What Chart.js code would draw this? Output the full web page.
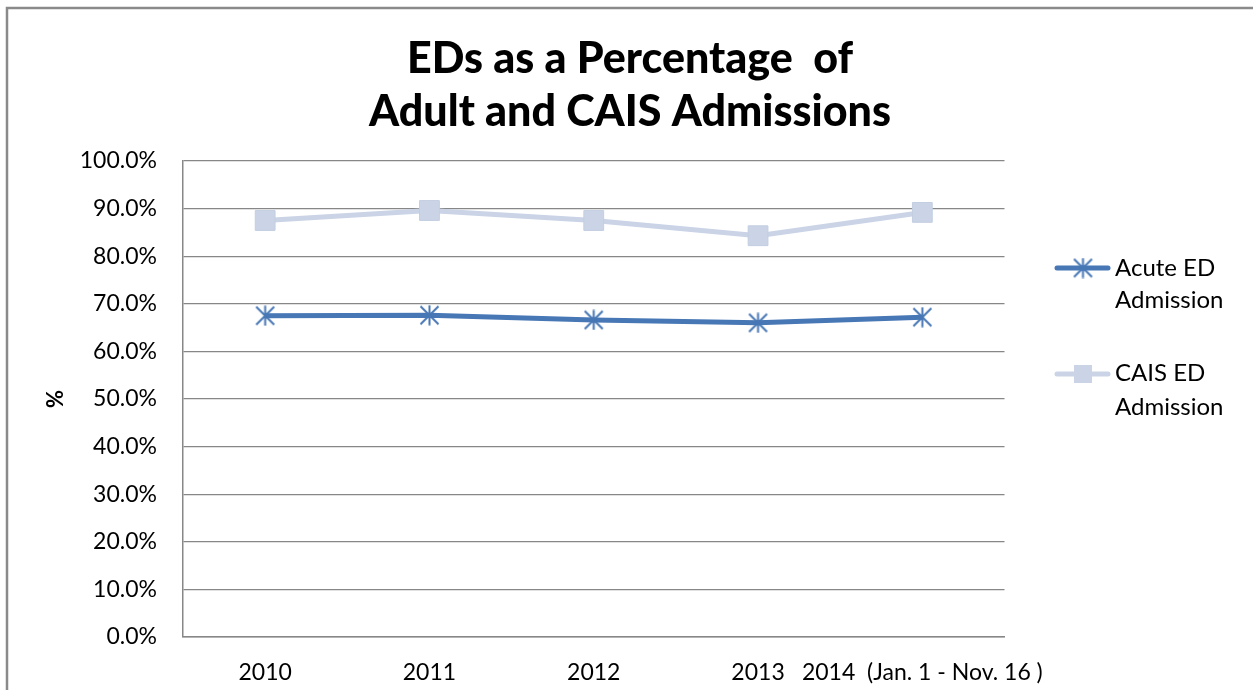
<!DOCTYPE html>
<html>
<head>
<meta charset="utf-8">
<script src="https://cdn.jsdelivr.net/npm/chart.js@4/dist/chart.umd.min.js"></script>
<style>
  html, body { margin: 0; padding: 0; background: #ffffff; }
  #wrap { width: 1253px; height: 690px; position: relative; }
</style>
</head>
<body>
<div id="wrap"><canvas id="c" width="1253" height="690"></canvas></div>
<script>
const categories = ['2010', '2011', '2012', '2013', '2014  (Jan. 1 - Nov. 16 )'];
const acuteED = [67.5, 67.6, 66.6, 66.0, 67.2];
const caisED = [87.5, 89.6, 87.5, 84.3, 89.2];
const seriesNames = [['Acute ED', 'Admission'], ['CAIS ED', 'Admission']];
const titleLines = ['EDs as a Percentage  of', 'Adult and CAIS Admissions'];
const yAxisTitle = '%';

const FONT = 'Lato, "Open Sans", "DejaVu Sans", sans-serif';
const ACUTE_COLOR = '#4777B5';
const CAIS_COLOR = '#CAD4E6';

// Star marker (X + vertical line) like Excel
function makeStar(color, size) {
  const c = document.createElement('canvas');
  c.width = size; c.height = size;
  const g = c.getContext('2d');
  g.strokeStyle = color;
  g.lineWidth = 2;
  g.lineCap = 'butt';
  const m = 1.5;
  g.beginPath();
  g.moveTo(m, m); g.lineTo(size - m, size - m);
  g.moveTo(size - m, m); g.lineTo(m, size - m);
  g.moveTo(size / 2, 0.5); g.lineTo(size / 2, size - 0.5);
  g.stroke();
  return c;
}
const starImg = makeStar(ACUTE_COLOR, 21);

const decorPlugin = {
  id: 'decor',
  beforeDraw(chart) {
    const ctx = chart.ctx;
    ctx.save();
    ctx.strokeStyle = '#8a8a8a';
    ctx.lineWidth = 2.5;
    ctx.beginPath();
    ctx.moveTo(7, 690);
    ctx.lineTo(7, 8);
    ctx.lineTo(1253, 8);
    ctx.stroke();
    ctx.restore();
  },
  afterDraw(chart) {
    const ctx = chart.ctx;
    ctx.save();
    // Title
    ctx.fillStyle = '#000000';
    ctx.font = '900 43px ' + FONT;
    ctx.textAlign = 'center';
    ctx.textBaseline = 'alphabetic';
    ctx.fillText(titleLines[0], 630, 73);
    ctx.fillText(titleLines[1], 630, 126);

    // Legend
    const entries = [
      { y: 268, textY: [276, 308] },
      { y: 374, textY: [381, 415] }
    ];
    chart.data.datasets.forEach((ds, i) => {
      const e = entries[i];
      ctx.strokeStyle = ds.borderColor;
      ctx.lineWidth = ds.borderWidth;
      ctx.lineCap = 'round';
      ctx.beginPath();
      ctx.moveTo(1057, e.y);
      ctx.lineTo(1108, e.y);
      ctx.stroke();
      if (ds.pointStyle === 'rect') {
        ctx.fillStyle = ds.pointBackgroundColor;
        ctx.fillRect(1083 - 9, e.y - 9, 18, 18);
      } else {
        ctx.drawImage(ds.pointStyle, 1083 - 10.5, e.y - 10.5);
      }
      ctx.fillStyle = '#000000';
      ctx.font = '24px ' + FONT;
      ctx.textAlign = 'left';
      ctx.fillText(seriesNames[i][0], 1115, e.textY[0]);
      ctx.fillText(seriesNames[i][1], 1115, e.textY[1]);
    });
    ctx.restore();
  }
};

new Chart(document.getElementById('c'), {
  type: 'line',
  data: {
    labels: categories,
    datasets: [
      {
        label: seriesNames[0].join(' '),
        data: acuteED,
        borderColor: ACUTE_COLOR,
        backgroundColor: ACUTE_COLOR,
        borderWidth: 5,
        pointStyle: starImg,
        pointRadius: 10,
        pointHoverRadius: 10,
        tension: 0,
        order: 1
      },
      {
        label: seriesNames[1].join(' '),
        data: caisED,
        borderColor: CAIS_COLOR,
        backgroundColor: CAIS_COLOR,
        pointBackgroundColor: CAIS_COLOR,
        pointBorderColor: '#C3CEE2',
        pointBorderWidth: 1,
        borderWidth: 5,
        pointStyle: 'rect',
        pointRadius: 14,
        pointHoverRadius: 14,
        tension: 0,
        order: 2
      }
    ]
  },
  options: {
    responsive: false,
    animation: false,
    devicePixelRatio: 1,
    events: [],
    layout: { padding: { left: 0, top: 161, right: 248.5, bottom: 0 } },
    plugins: {
      legend: { display: false },
      title: { display: false },
      tooltip: { enabled: false }
    },
    scales: {
      x: {
        offset: true,
        grid: { display: false, drawTicks: false },
        border: { display: true, color: '#878787', width: 1.5 },
        ticks: {
          autoSkip: false,
          maxRotation: 0,
          minRotation: 0,
          padding: 22,
          color: '#000000',
          font: { family: FONT, size: 23 }
        },
        afterFit(scale) { scale.height = 53; }
      },
      y: {
        min: 0,
        max: 100,
        ticks: {
          stepSize: 10,
          padding: 26,
          color: '#000000',
          font: { family: FONT, size: 23 },
          callback: (v) => v.toFixed(1) + '%'
        },
        grid: { color: '#878787', lineWidth: 1.3, drawTicks: false },
        border: { display: true, color: '#878787', width: 1.5 },
        title: {
          display: true,
          text: yAxisTitle,
          color: '#000000',
          font: { family: FONT, size: 22, weight: 'bold' },
          padding: { top: 43, bottom: 0 }
        },
        afterFit(scale) { scale.width = 183; }
      }
    }
  },
  plugins: [decorPlugin]
});
</script>
</body>
</html>
